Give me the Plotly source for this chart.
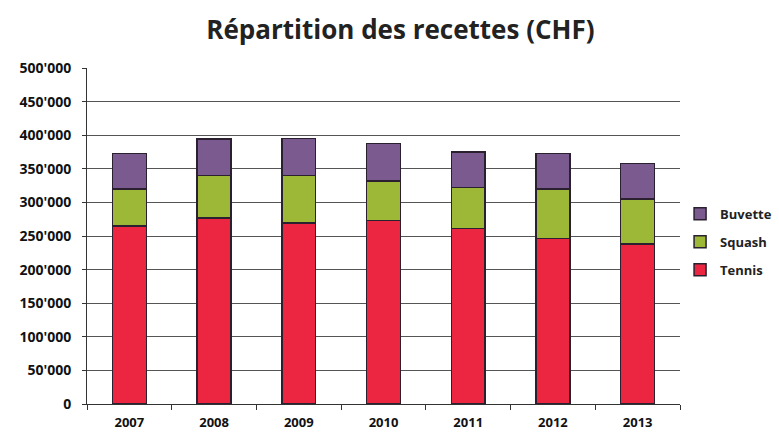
import plotly.graph_objects as go

years = ["2007", "2008", "2009", "2010", "2011", "2012", "2013"]
tennis = [265000, 277000, 269000, 273000, 261000, 246000, 238000]
squash = [55000, 63000, 71000, 59000, 61000, 74000, 67000]
buvette = [53000, 54000, 55000, 56000, 53000, 53000, 53000]
y_ticks = [0, 50000, 100000, 150000, 200000, 250000, 300000, 350000, 400000, 450000, 500000]

font = "Open Sans"
line = dict(color="#2a2030", width=1.5)

fig = go.Figure()
fig.add_bar(x=years, y=tennis, name="Tennis", legendgroup="t", legendrank=3,
            marker=dict(color="#ec2540", line=line))
fig.add_bar(x=years, y=squash, name="Squash", legendgroup="s", legendrank=2,
            marker=dict(color="#9cb836", line=line))
fig.add_bar(x=years, y=buvette, name="Buvette", legendgroup="b", legendrank=1,
            marker=dict(color="#7b5b8f", line=line))

fig.update_layout(
    barmode="stack",
    bargap=0.6,
    width=779, height=432,
    margin=dict(l=87, r=99, t=68, b=28),
    paper_bgcolor="white", plot_bgcolor="white",
    separators=".'",
    title=dict(text="Répartition des recettes (CHF)", x=0.514, xref="container", xanchor="center",
               y=0.93, yanchor="middle",
               font=dict(family=font, size=26, color="#222", weight="bold")),
    font=dict(family=font, size=12, color="#111"),
    legend=dict(xref="container", yref="container", x=0.873, y=0.44, xanchor="left", yanchor="middle",
                traceorder="grouped", font=dict(family=font, size=13, color="#222", weight="bold"),
                itemwidth=30, tracegroupgap=8),
    showlegend=True,
)
fig.update_xaxes(showline=True, linecolor="#333", linewidth=1, ticks="outside", tickson="boundaries",
                 ticklen=5, tickcolor="#333", ticklabelstandoff=6, automargin=False,
                 tickfont=dict(family=font, size=13, color="#111", weight="bold"))
fig.update_yaxes(range=[0, 500000], tickvals=y_ticks, tickformat=",d", showline=True, linecolor="#333",
                 linewidth=1, ticks="outside", ticklen=4, tickcolor="#333", gridcolor="#555", gridwidth=1,
                 ticklabelstandoff=8, automargin=False,
                 tickfont=dict(family=font, size=14, color="#111", weight="bold"), zeroline=False)

fig.write_html("out.html")
